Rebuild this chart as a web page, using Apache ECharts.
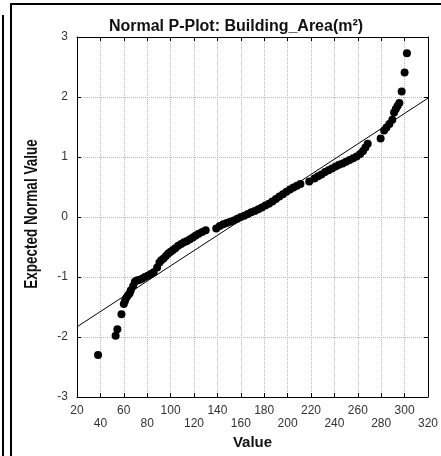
<!DOCTYPE html>
<html>
<head>
<meta charset="utf-8">
<script src="https://cdn.jsdelivr.net/npm/echarts@6/dist/echarts.min.js"></script>
<style>
  html, body { margin: 0; padding: 0; background: #fff; }
  #chart { width: 441px; height: 456px; }
</style>
</head>
<body>
<div id="chart"></div>
<script>
    // 观测值 (Value) 与期望正态值 (Expected Normal Value)
    var values = [
        38, 53, 54.5, 58, 60, 61, 62, 63.5, 65, 66,
        68, 69.5, 71, 73, 75.5, 78, 80.5, 83, 85.5, 88.5,
        90.5, 92, 94, 96, 98, 100, 102, 104, 106.5, 109,
        111.5, 114, 116.5, 119, 121.5, 124, 127, 130, 139, 142,
        145, 148, 151, 154, 157, 160, 163, 166, 169, 172,
        175, 178, 181, 184, 187, 190, 193, 196, 199, 202,
        205, 208, 211, 218.5, 223, 226, 229, 232, 235, 238,
        241, 244, 247, 250, 253, 256, 259, 262, 264.5, 266.5,
        268.5, 279.5, 282.5, 284.5, 287, 289.5, 291, 292.5, 294, 295.5,
        297.5, 300, 302
    ];
    var expected = [
        -2.30, -1.98, -1.87, -1.62, -1.45, -1.40, -1.35, -1.31, -1.27, -1.22,
        -1.15, -1.08, -1.06, -1.05, -1.03, -1.00, -0.98, -0.95, -0.92, -0.84,
        -0.76, -0.72, -0.69, -0.65, -0.61, -0.58, -0.55, -0.52, -0.48, -0.45,
        -0.42, -0.40, -0.37, -0.34, -0.31, -0.28, -0.25, -0.22, -0.19, -0.15,
        -0.12, -0.10, -0.08, -0.06, -0.03, 0.00, 0.02, 0.05, 0.08, 0.10,
        0.13, 0.16, 0.19, 0.22, 0.26, 0.30, 0.34, 0.38, 0.42, 0.46,
        0.49, 0.52, 0.55, 0.59, 0.64, 0.68, 0.71, 0.75, 0.78, 0.81,
        0.84, 0.87, 0.89, 0.92, 0.95, 0.98, 1.01, 1.05, 1.10, 1.16,
        1.22, 1.31, 1.44, 1.49, 1.55, 1.62, 1.74, 1.80, 1.85, 1.90,
        2.09, 2.41, 2.73
    ];
    // 参考直线两端
    var refX = [20, 320];
    var refY = [-1.83, 1.98];

    var points = [];
    for (var i = 0; i < values.length; i++) {
        points.push([values[i], expected[i]]);
    }
    var refLine = [[refX[0], refY[0]], [refX[1], refY[1]]];

    var chart = echarts.init(document.getElementById('chart'));

    var gridLine = { show: true, lineStyle: { color: '#b8b8b8', type: 'dotted', width: 1 } };
    var tickIn = { show: true, inside: true, length: 4, lineStyle: { color: '#000' } };
    var frameLine = { show: true, onZero: false, lineStyle: { color: '#000', width: 1 } };

    var option = {
        backgroundColor: '#fff',
        animation: false,
        title: {
            text: 'Normal P-Plot: Building_Area(m²)',
            left: 231,
            top: 14,
            textAlign: 'center',
            textStyle: { fontFamily: 'Liberation Sans, Arial', fontWeight: 'bold', fontSize: 16, color: '#111' }
        },
        grid: { left: 77, top: 37, right: 12, bottom: 59 },
        xAxis: [
            {
                type: 'value',
                min: 20, max: 320, interval: 20,
                name: 'Value',
                nameLocation: 'middle',
                nameGap: 31,
                nameTextStyle: { fontFamily: 'Liberation Sans, Arial', fontWeight: 'bold', fontSize: 15, color: '#111' },
                axisLine: frameLine,
                axisTick: tickIn,
                splitLine: gridLine,
                axisLabel: {
                    interval: 0,
                    margin: 7,
                    fontFamily: 'Liberation Sans, Arial',
                    fontSize: 12,
                    lineHeight: 13,
                    color: '#333',
                    formatter: function (v) {
                        return ((v - 20) / 20) % 2 === 1 ? '\n' + v : String(v);
                    }
                }
            },
            {
                type: 'value', position: 'top',
                min: 20, max: 320, interval: 20,
                axisLine: frameLine,
                axisTick: tickIn,
                axisLabel: { show: false },
                splitLine: { show: false }
            }
        ],
        yAxis: [
            {
                type: 'value',
                min: -3, max: 3, interval: 1,
                axisLine: frameLine,
                axisTick: tickIn,
                splitLine: gridLine,
                axisLabel: { margin: 9, fontFamily: 'Liberation Sans, Arial', fontSize: 12, color: '#333' }
            },
            {
                type: 'value', position: 'right',
                min: -3, max: 3, interval: 1,
                axisLine: frameLine,
                axisTick: tickIn,
                axisLabel: { show: false },
                splitLine: { show: false }
            }
        ],
        graphic: [
            { type: 'rect', shape: { x: 11, y: 4, width: 440, height: 460 }, style: { fill: null, stroke: '#000', lineWidth: 2 }, silent: true },
            { type: 'line', shape: { x1: 3, y1: 15, x2: 3, y2: 460 }, style: { stroke: '#000', lineWidth: 2 }, silent: true },
            {
                // 纵轴标题 (窄体粗字)
                type: 'text',
                x: 32, y: 214,
                rotation: Math.PI / 2,
                scaleX: 0.75,
                style: {
                    text: 'Expected Normal Value',
                    font: 'bold 18px "Liberation Sans", Arial',
                    fill: '#111',
                    align: 'center',
                    verticalAlign: 'middle'
                },
                silent: true
            }
        ],
        series: [
            {
                name: 'ref',
                type: 'line',
                data: refLine,
                symbol: 'none',
                lineStyle: { color: '#000', width: 1 },
                z: 2
            },
            {
                name: 'points',
                type: 'scatter',
                data: points,
                symbol: 'circle',
                symbolSize: 8,
                itemStyle: { color: '#000', opacity: 1 },
                z: 3
            }
        ]
    };

    chart.setOption(option);
</script>
</body>
</html>
